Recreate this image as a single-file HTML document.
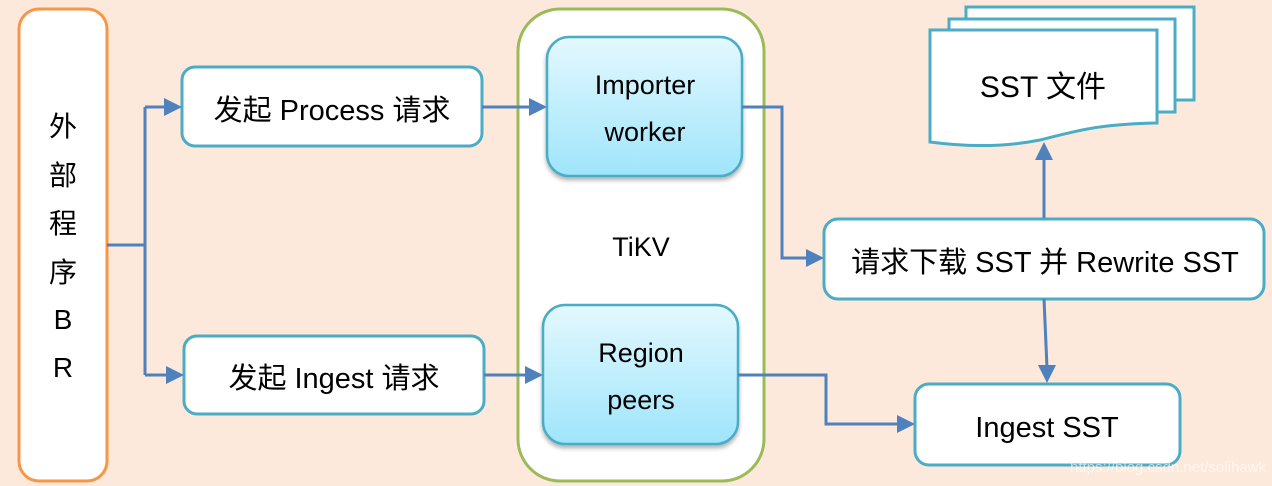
<!DOCTYPE html>
<html><head><meta charset="utf-8"><style>
html,body{margin:0;padding:0;background:#fde9db;}
svg{display:block}
text{font-family:"Liberation Sans","Noto Sans CJK SC",sans-serif;fill:#000;}
</style></head><body>
<svg width="1272" height="486" viewBox="0 0 1272 486" xmlns="http://www.w3.org/2000/svg">
<defs>
<linearGradient id="g" x1="0" y1="0" x2="0" y2="1">
<stop offset="0" stop-color="#e3f8fe"/><stop offset="1" stop-color="#9fe5fb"/>
</linearGradient>
<filter id="sh" x="-10%" y="-10%" width="120%" height="130%"><feDropShadow dx="0" dy="3" stdDeviation="2" flood-color="#000" flood-opacity="0.3"/></filter>
</defs>
<rect width="1272" height="486" fill="#fde9db"/>
<rect x="19" y="9" width="88" height="472" rx="20" fill="#fff" stroke="#f79646" stroke-width="3"/>
<g font-size="28" text-anchor="middle">
<text x="63" y="136">外</text><text x="63" y="185">部</text><text x="63" y="233">程</text><text x="63" y="282">序</text>
<text x="63" y="329">B</text><text x="63" y="377">R</text></g>
<rect x="518" y="9" width="246" height="472" rx="42" fill="#fff" stroke="#9bbb59" stroke-width="3"/>
<text x="641" y="256" font-size="27" text-anchor="middle">TiKV</text>
<rect x="547" y="37" width="195" height="139" rx="22" fill="url(#g)" stroke="#4bacc6" stroke-width="2.5" filter="url(#sh)"/>
<text x="645" y="94" font-size="27" text-anchor="middle">Importer</text>
<text x="645" y="141" font-size="27" text-anchor="middle">worker</text>
<rect x="543" y="305" width="195" height="139" rx="22" fill="url(#g)" stroke="#4bacc6" stroke-width="2.5" filter="url(#sh)"/>
<text x="641" y="362" font-size="27" text-anchor="middle">Region</text>
<text x="641" y="409" font-size="27" text-anchor="middle">peers</text>
<rect x="182" y="67" width="300" height="79" rx="13" fill="#fff" stroke="#4bacc6" stroke-width="3"/>
<text x="332" y="120" font-size="29" text-anchor="middle">发起 Process 请求</text>
<rect x="184" y="336" width="300" height="78" rx="13" fill="#fff" stroke="#4bacc6" stroke-width="3"/>
<text x="334" y="388" font-size="29" text-anchor="middle">发起 Ingest 请求</text>
<rect x="824" y="219" width="440" height="80" rx="14" fill="#fff" stroke="#4bacc6" stroke-width="3"/>
<text x="1045" y="272" font-size="29" text-anchor="middle">请求下载 SST 并 Rewrite SST</text>
<rect x="915" y="384" width="265" height="81" rx="14" fill="#fff" stroke="#4bacc6" stroke-width="3"/>
<text x="1047" y="437" font-size="29" text-anchor="middle">Ingest SST</text>
<rect x="966" y="7" width="228" height="93" fill="#fff" stroke="#4bacc6" stroke-width="3"/>
<rect x="949" y="19" width="226" height="93" fill="#fff" stroke="#4bacc6" stroke-width="3"/>
<path d="M930 30 H1157 V123 C1100 124 1080 130 1040 140 C1000 148 960 146 930 142 Z" fill="#fff" stroke="#4bacc6" stroke-width="3"/>
<text x="1043" y="97" font-size="30" text-anchor="middle">SST 文件</text>
<g stroke="#4f81bd" stroke-width="3" fill="none">
<path d="M107 245 H145 M145 107 V375 M145 107 H166 M145 375 H168"/>
<path d="M482 107 H530"/>
<path d="M484 375 H527"/>
<path d="M742 107 H782 V258 H808"/>
<path d="M738 375 H826 V424 H900"/>
<path d="M1044 218 V158"/>
<path d="M1044 299 L1047 368"/>
</g>
<g fill="#4f81bd">
<polygon points="182,107 164,98 164,116"/>
<polygon points="184,375 166,366 166,384"/>
<polygon points="547,107 529,98 529,116"/>
<polygon points="543,375 525,366 525,384"/>
<polygon points="824,258 806,249 806,267"/>
<polygon points="915,424 897,415 897,433"/>
<polygon points="1044,142 1035,160 1053,160"/>
<polygon points="1047,383 1038,365 1056,365"/>
</g>
<text x="1168" y="472" font-size="15" text-anchor="middle" style="fill:#fff;fill-opacity:0.6">https://blog.csdn.net/solihawk</text>
</svg>
</body></html>
